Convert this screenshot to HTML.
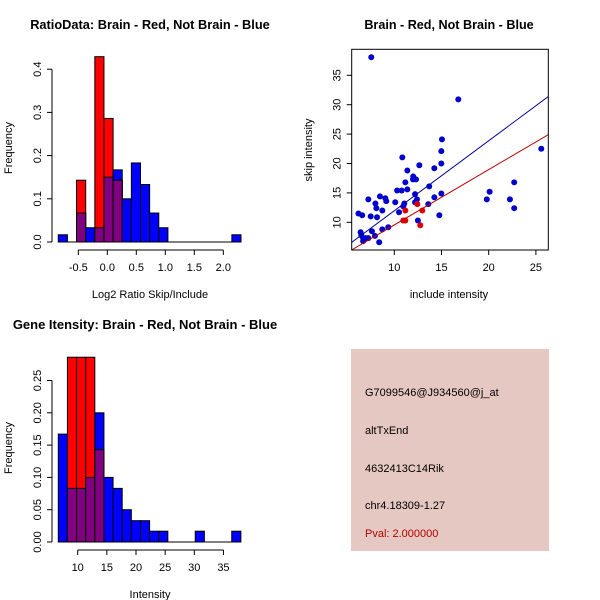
<!DOCTYPE html>
<html><head><meta charset="utf-8"><style>
html,body{margin:0;padding:0;background:#fff;}
svg{display:block;font-family:"Liberation Sans",sans-serif;}
</style></head><body>
<svg id="chart" width="600" height="600" viewBox="0 0 600 600" xmlns="http://www.w3.org/2000/svg">
<rect x="0" y="0" width="600" height="600" fill="#fff"/>
<text x="150" y="29" font-size="12.8" font-weight="bold" text-anchor="middle">RatioData: Brain - Red, Not Brain - Blue</text>
<text x="449" y="29" font-size="12.6" font-weight="bold" text-anchor="middle">Brain - Red, Not Brain - Blue</text>
<text x="145" y="329" font-size="13" font-weight="bold" text-anchor="middle">Gene Itensity: Brain - Red, Not Brain - Blue</text>
<g id="p1"></g>
<g id="p2"></g>
<g id="p3"></g>
<g>
<rect x="351" y="349" width="198" height="202" fill="#e6c8c2"/>
<text x="365" y="396" font-size="11">G7099546@J934560@j_at</text>
<text x="365" y="434" font-size="11">altTxEnd</text>
<text x="365" y="472" font-size="11">4632413C14Rik</text>
<text x="365" y="509" font-size="11">chr4.18309-1.27</text>
<text x="365" y="537" font-size="11" fill="#b00000">Pval: 2.000000</text>
</g>
</svg>
<script>
// ---- Ratio histogram data ----
const ratioBinStart = -0.845;
const ratioBinWidth = 0.1575;
const ratioBlue = [0.0167,0,0.067,0.033,0.033,0.15,0.167,0.1,0.183,0.133,0.067,0.033,0,0,0,0,0,0,0,0.0167];
const ratioRed  = [0,0,0.143,0,0.429,0.286,0.143,0,0,0,0,0,0,0,0,0,0,0,0,0];
const ratioXTicks = [-0.5,0,0.5,1,1.5,2];
const ratioXTickLabels = ["-0.5","0.0","0.5","1.0","1.5","2.0"];
const ratioYTicks = [0,0.1,0.2,0.3,0.4];
const ratioYTickLabels = ["0.0","0.1","0.2","0.3","0.4"];
// ---- Intensity histogram data ----
const intBinStart = 6.67;
const intBinWidth = 1.566;
const intBlue = [0.167,0.083,0.083,0.1,0.2,0.1,0.083,0.05,0.033,0.033,0.0167,0.0167,0,0,0,0.0167,0,0,0,0.0167];
const intRed  = [0,0.286,0.286,0.286,0.143,0,0,0,0,0,0,0,0,0,0,0,0,0,0,0];
const intXTicks = [10,15,20,25,30,35];
const intXTickLabels = ["10","15","20","25","30","35"];
const intYTicks = [0,0.05,0.1,0.15,0.2,0.25];
const intYTickLabels = ["0.00","0.05","0.10","0.15","0.20","0.25"];
// ---- Scatter data ----
const blueX = [7.56,16.78,25.57,15.05,14.98,14.98,14.98,14.77,10.85,11.38,12.65,14.24,12.0,12.3,11.98,11.17,13.7,10.3,10.78,11.38,12.2,14.24,13.6,12.4,12.2,11.06,10.95,10.1,10.5,12.5,8.48,9.05,9.15,7.25,8.0,8.1,8.73,6.2,6.6,7.5,8.17,9.36,7.63,8.73,6.43,6.5,6.7,7.0,7.25,7.95,6.7,8.4,22.7,22.25,20.1,19.8,22.7];
const blueY = [38.06,30.9,22.5,24.1,22.1,20.0,14.9,11.2,21.05,18.8,19.7,19.2,17.8,17.3,17.3,16.8,16.1,15.4,15.4,15.6,14.8,14.25,13.1,13.9,13.4,13.2,12.7,13.4,11.7,10.3,14.4,14.1,13.6,13.9,13.2,12.4,12.0,11.5,11.2,11.0,10.85,9.15,8.47,8.8,8.3,7.8,7.3,7.3,7.3,7.7,6.8,6.6,16.8,13.9,15.2,13.9,12.4];
const redX = [11.17,10.95,11.17,12.44,12.97,12.75];
const redY = [12.0,10.3,10.3,13.1,12.0,9.5];
const blueFit = [0.07,1.19];   // intercept, slope
const redFit = [0.14,0.941];
const scXTicks = [10,15,20,25];
const scXTickLabels = ["10","15","20","25"];
const scYTicks = [10,15,20,25,30,35];
const scYTickLabels = ["10","15","20","25","30","35"];

const NS="http://www.w3.org/2000/svg";
function mk(parent,tag,attrs){const e=document.createElementNS(NS,tag);for(const k in attrs)e.setAttribute(k,attrs[k]);parent.appendChild(e);return e;}

function hist(g,o){
  const sx=v=>o.x0+(v-o.d0)*o.kx, sy=v=>o.y0-v*o.ky;
  for(let i=0;i<o.blue.length;i++){
    const a=o.start+i*o.w, b=a+o.w;
    const bv=o.blue[i], rv=o.red[i], mn=Math.min(bv,rv);
    if(bv>0){const r=mk(g,'rect',{x:sx(a),y:sy(bv),width:sx(b)-sx(a),height:sy(0)-sy(bv),fill:'#0000ff',stroke:'#000','stroke-width':1});
      
      }
    if(rv>0){const r=mk(g,'rect',{x:sx(a),y:sy(rv),width:sx(b)-sx(a),height:sy(0)-sy(rv),fill:'#ff0000',stroke:'#000','stroke-width':1});
      
      }
    if(mn>0){const r=mk(g,'rect',{x:sx(a),y:sy(mn),width:sx(b)-sx(a),height:sy(0)-sy(mn),fill:'#800080',stroke:'#000','stroke-width':1});
      
      }
  }
  const bl=mk(g,'line',{x1:sx(o.start),x2:sx(o.start+o.blue.length*o.w),y1:sy(0),y2:sy(0),stroke:'#000'});
  
  
  const xa=mk(g,'line',{x1:sx(o.xt[0]),x2:sx(o.xt[o.xt.length-1]),y1:o.axY,y2:o.axY,stroke:'#000'});
  
  
  o.xt.forEach((t,i)=>{mk(g,'line',{x1:sx(t),x2:sx(t),y1:o.axY,y2:o.axY+5,stroke:'#000'});
    const tx=mk(g,'text',{x:sx(t),y:o.axY+21,'font-size':11,'text-anchor':'middle'});tx.textContent=o.xl[i];
    
    });
  const ya=mk(g,'line',{x1:o.axX,x2:o.axX,y1:sy(o.yt[0]),y2:sy(o.yt[o.yt.length-1]),stroke:'#000'});
  
  
  o.yt.forEach((t,i)=>{mk(g,'line',{x1:o.axX-5,x2:o.axX,y1:sy(t),y2:sy(t),stroke:'#000'});
    const tx=mk(g,'text',{x:o.axX-11,y:sy(t),'font-size':11,'text-anchor':'middle',transform:`rotate(-90 ${o.axX-11} ${sy(t)})`});tx.textContent=o.yl[i];
    
    });
  const xt=mk(g,'text',{x:o.xTitleX,y:o.xTitleY,'font-size':11,'text-anchor':'middle'});xt.textContent=o.xTitle;
  
  
  const yt=mk(g,'text',{x:12,y:o.yTitleY,'font-size':11,'text-anchor':'middle',transform:`rotate(-90 12 ${o.yTitleY})`});yt.textContent='Frequency';
  
  
}

hist(document.getElementById('p1'),{x0:78.3,d0:-0.5,kx:58,y0:242,ky:432,start:ratioBinStart,w:ratioBinWidth,blue:ratioBlue,red:ratioRed,
  xt:ratioXTicks,xl:ratioXTickLabels,yt:ratioYTicks,yl:ratioYTickLabels,axY:250,axX:52,xTitle:'Log2 Ratio Skip/Include',xTitleX:150,xTitleY:298,yTitleY:148});
hist(document.getElementById('p3'),{x0:77.7,d0:10,kx:5.83,y0:542,ky:646,start:intBinStart,w:intBinWidth,blue:intBlue,red:intRed,
  xt:intXTicks,xl:intXTickLabels,yt:intYTicks,yl:intYTickLabels,axY:550,axX:52,xTitle:'Intensity',xTitleX:150,xTitleY:598,yTitleY:448});

(function(){
  const g=document.getElementById('p2');
  const L=351.7,R=548.3,T=49.3,B=250;
  const sx=v=>394.3+(v-10)*9.44, sy=v=>222.3-(v-10)*5.88;
  const xmin=10+(L-394.3)/9.44, xmax=10+(R-394.3)/9.44;
  const defs=mk(g,'defs',{});const cp=mk(defs,'clipPath',{id:'clipBox'});mk(cp,'rect',{x:L,y:T,width:R-L,height:B-T});
  blueX.forEach((x,i)=>{const c=mk(g,'circle',{cx:sx(x),cy:sy(blueY[i]),r:3,fill:'#0000cd'});
    
    });
  redX.forEach((x,i)=>{const c=mk(g,'circle',{cx:sx(x),cy:sy(redY[i]),r:3,fill:'#dd0000'});
    
    });
  [[blueFit,'#000099','blue-fit-line'],[redFit,'#bb0000','red-fit-line']].forEach(([f,col,nm])=>{
    const l=mk(g,'line',{x1:sx(xmin),y1:sy(f[0]+f[1]*xmin),x2:sx(xmax),y2:sy(f[0]+f[1]*xmax),stroke:col,'stroke-width':1,'clip-path':'url(#clipBox)'});
    
    });
  const box=mk(g,'rect',{x:L,y:T,width:R-L,height:B-T,fill:'none',stroke:'#000'});
  
  
  scXTicks.forEach((t,i)=>{mk(g,'line',{x1:sx(t),x2:sx(t),y1:B,y2:B+5,stroke:'#000'});
    const tx=mk(g,'text',{x:sx(t),y:B+21,'font-size':11,'text-anchor':'middle'});tx.textContent=scXTickLabels[i];
    
    });
  scYTicks.forEach((t,i)=>{mk(g,'line',{x1:L-5,x2:L,y1:sy(t),y2:sy(t),stroke:'#000'});
    const X=L-11;const tx=mk(g,'text',{x:X,y:sy(t),'font-size':11,'text-anchor':'middle',transform:`rotate(-90 ${X} ${sy(t)})`});tx.textContent=scYTickLabels[i];
    
    });
  const xt=mk(g,'text',{x:449,y:298,'font-size':11,'text-anchor':'middle'});xt.textContent='include intensity';
  
  
  const yt=mk(g,'text',{x:312,y:150,'font-size':11,'text-anchor':'middle',transform:'rotate(-90 312 150)'});yt.textContent='skip intensity';
  
  
})();
</script>
</body></html>
